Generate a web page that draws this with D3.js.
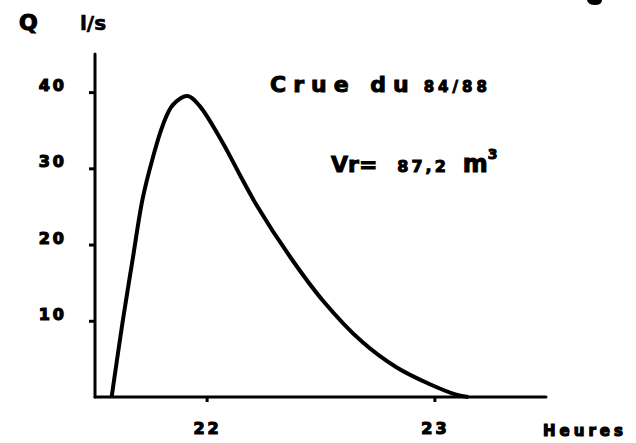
<!DOCTYPE html>
<html>
<head>
<meta charset="utf-8">
<script src="https://cdn.jsdelivr.net/npm/d3@7"></script>
<style>
  html, body { margin: 0; padding: 0; background: #fff; }
  svg { display: block; }
  text { font-family: "DejaVu Sans", sans-serif; font-weight: bold; fill: #000; }
</style>
</head>
<body>
<svg id="chart" width="636" height="443"></svg>
<script>
// Hydrograph of the flood: time in decimal hours, discharge Q in l/s
const hours = [21.583, 21.632, 21.675, 21.719, 21.763, 21.807, 21.851, 21.917, 21.969,
               22.070, 22.145, 22.219, 22.364, 22.509, 22.684, 22.833, 22.978, 23.096, 23.149];
const discharge = [0, 10, 18, 26, 31.3, 35.6, 38.3, 39.5, 38.2,
                   33.4, 29.2, 25.2, 18.5, 12.7, 7.2, 3.9, 1.7, 0.3, 0];
const yTicks = [10, 20, 30, 40];
const xTicks = [22, 23];

const svg = d3.select("#chart");

const x = d3.scaleLinear().domain([21.51, 23.49]).range([95, 546]);
const y = d3.scaleLinear().domain([0, 45]).range([397, 54]);

// Axes
const yAxis = d3.axisLeft(y).tickValues(yTicks).tickSize(6).tickFormat("");
const gy = svg.append("g").attr("transform", `translate(${x.range()[0]},0)`).call(yAxis);
gy.select(".domain").attr("d", `M0,${y(45)}V${y(0)}`);

const xAxis = d3.axisBottom(x).tickValues(xTicks).tickSize(5).tickFormat("");
const gx = svg.append("g").attr("transform", `translate(0,${y(0)})`).call(xAxis);
gx.select(".domain").attr("d", `M${x.range()[0]},0H${x.range()[1]}`);

svg.selectAll(".domain").attr("stroke", "#000").attr("stroke-width", 3).attr("fill", "none")
   .attr("stroke-linecap", "round");
svg.selectAll(".tick line").attr("stroke", "#000").attr("stroke-width", 3);

// Tick labels
svg.append("g").selectAll("text").data(yTicks).join("text")
  .attr("x", 67).attr("y", d => y(d) - 1)
  .attr("text-anchor", "end")
  .attr("font-size", 16).attr("letter-spacing", 3)
  .attr("stroke", "#000").attr("stroke-width", 1.2)
  .text(d => d);

svg.append("g").selectAll("text").data(xTicks).join("text")
  .attr("x", d => x(d) + 1).attr("y", 434)
  .attr("text-anchor", "middle")
  .attr("font-size", 16).attr("letter-spacing", 3)
  .attr("stroke", "#000").attr("stroke-width", 1.2)
  .text(d => d);

// Axis titles
svg.append("text").attr("x", 19).attr("y", 30).attr("font-size", 22)
  .attr("stroke", "#000").attr("stroke-width", 1.2).text("Q");
svg.append("text").attr("x", 80).attr("y", 30).attr("font-size", 20)
  .attr("stroke", "#000").attr("stroke-width", 0.6).text("l/s");
svg.append("text").attr("x", 543).attr("y", 436).attr("font-size", 15)
  .attr("letter-spacing", 4).attr("stroke", "#000").attr("stroke-width", 1.2).text("Heures");

// Ink of a heading that runs off the top edge
svg.append("path")
  .attr("d", "M587,0 H602 Q602,5 595,5 Q588,5 587,0 Z")
  .attr("fill", "#000");

// Annotations
const t1 = svg.append("text").attr("x", 270).attr("y", 92)
  .attr("stroke", "#000").attr("stroke-width", 1);
t1.append("tspan").attr("font-size", 22).attr("letter-spacing", 7).text("Crue du");
t1.append("tspan").attr("font-size", 15).attr("dx", 8).attr("letter-spacing", 4).text("84/88");

const t2 = svg.append("text").attr("x", 331).attr("y", 172)
  .attr("stroke", "#000").attr("stroke-width", 1);
t2.append("tspan").attr("font-size", 22).text("Vr=");
t2.append("tspan").attr("font-size", 16).attr("dx", 20).attr("letter-spacing", 3).text("87,2");
t2.append("tspan").attr("font-size", 24).attr("dx", 14).text("m");
t2.append("tspan").attr("font-size", 14).attr("dy", -13).text("3");

// Discharge curve
const line = d3.line()
  .x((d, i) => x(hours[i]))
  .y(d => y(d))
  .curve(d3.curveCatmullRom.alpha(0.5));

svg.append("path")
  .attr("d", line(discharge))
  .attr("fill", "none")
  .attr("stroke", "#000")
  .attr("stroke-width", 4)
  .attr("stroke-linejoin", "round");
</script>
</body>
</html>
